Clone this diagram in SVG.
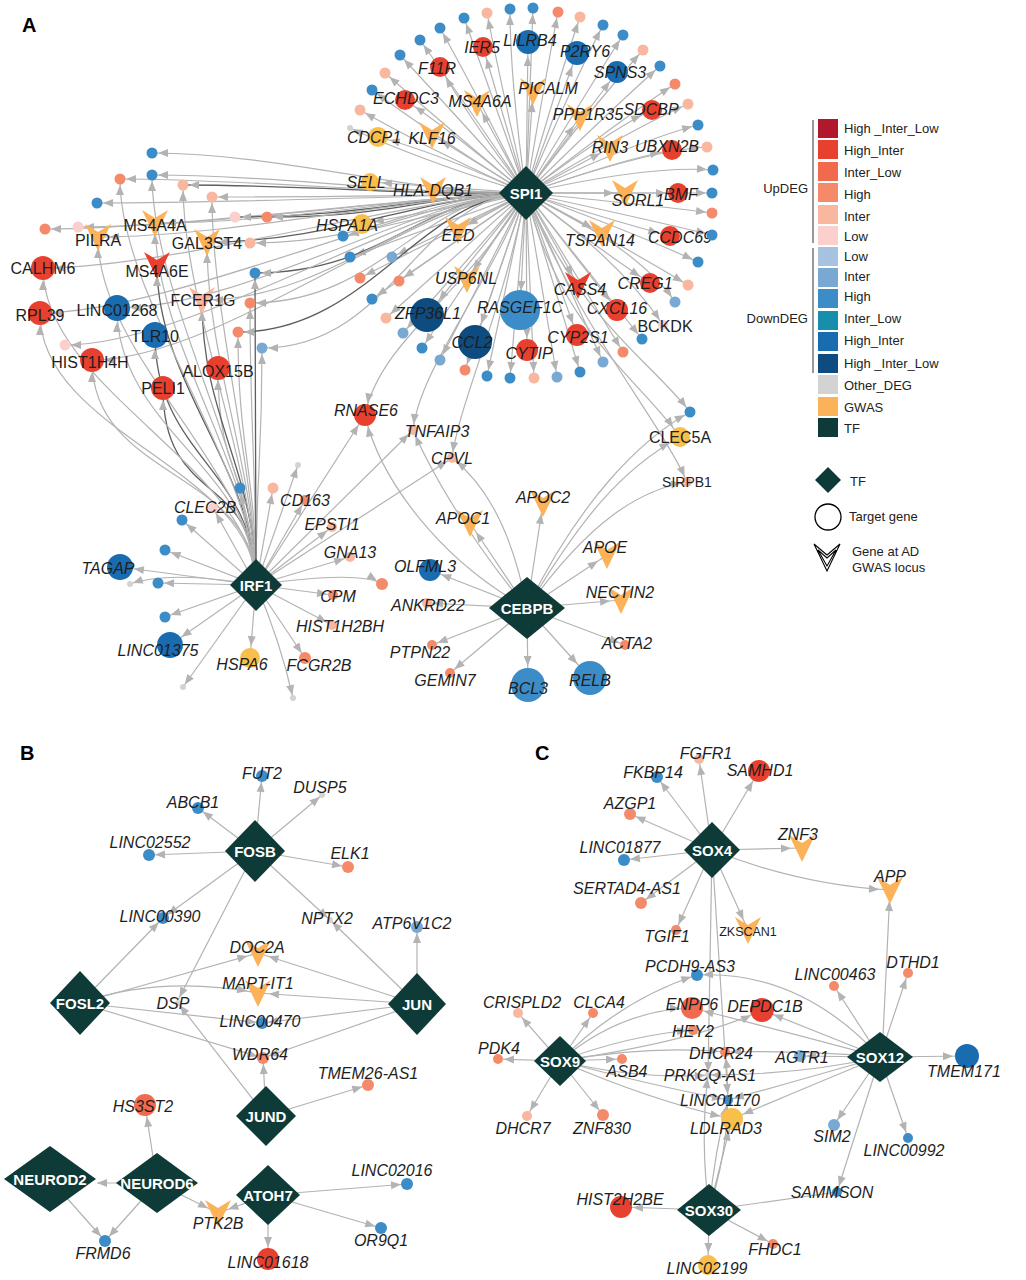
<svg xmlns="http://www.w3.org/2000/svg" xmlns:xlink="http://www.w3.org/1999/xlink" width="1026" height="1280" viewBox="0 0 1026 1280">
<style>
.e{fill:none;stroke:#b3b3b3;stroke-width:1.2}
.ed{fill:none;stroke:#5e5e5e;stroke-width:1.3}
.a0{marker-end:url(#m0)}.a3{marker-end:url(#m3)}.a5{marker-end:url(#m5)}.a10{marker-end:url(#m10)}.a13{marker-end:url(#m13)}.a17{marker-end:url(#m17)}.aV{marker-end:url(#mV)}
.t{font-family:"Liberation Sans",Arial,sans-serif;font-size:16px;font-style:italic;fill:#1e1e1e;text-anchor:middle}
.u{font-style:normal}
.tf{font-family:"Liberation Sans",Arial,sans-serif;font-size:15px;font-weight:bold;fill:#fff;text-anchor:middle}
.lg{font-family:"Liberation Sans",Arial,sans-serif;font-size:13px;fill:#222}
.pl{font-family:"Liberation Sans",Arial,sans-serif;font-size:20px;font-weight:bold;fill:#000}
.hilu{fill:#b2182b}.hiu{fill:#e8402f}.ilu{fill:#f26a4d}.hu{fill:#f58a6b}.iu{fill:#f9b79f}.lu{fill:#fbcfcb}
.ld{fill:#a7c2df}.id{fill:#79a9d3}.hd{fill:#3c8dc7}.ild{fill:#178fac}.hid{fill:#1a6cb0}.hild{fill:#0e4b7f}
.ot{fill:#d3d3d3}.gw{fill:#fbb258}.gd{fill:#f8c04a}.tfc{fill:#0e3b38}
</style>
<defs>
<marker id="m0" markerUnits="userSpaceOnUse" markerWidth="12" markerHeight="10" refX="10" refY="4" orient="auto" style="overflow:visible"><path d="M0,0L10,4L0,8z" fill="#b3b3b3"/></marker>
<marker id="m3" markerUnits="userSpaceOnUse" markerWidth="16" markerHeight="10" refX="13" refY="4" orient="auto" style="overflow:visible"><path d="M0,0L10,4L0,8z" fill="#b3b3b3"/></marker>
<marker id="m5" markerUnits="userSpaceOnUse" markerWidth="18" markerHeight="10" refX="16" refY="4" orient="auto" style="overflow:visible"><path d="M0,0L10,4L0,8z" fill="#b3b3b3"/></marker>
<marker id="m10" markerUnits="userSpaceOnUse" markerWidth="24" markerHeight="10" refX="22" refY="4" orient="auto" style="overflow:visible"><path d="M0,0L10,4L0,8z" fill="#b3b3b3"/></marker>
<marker id="m13" markerUnits="userSpaceOnUse" markerWidth="26" markerHeight="10" refX="24" refY="4" orient="auto" style="overflow:visible"><path d="M0,0L10,4L0,8z" fill="#b3b3b3"/></marker>
<marker id="m17" markerUnits="userSpaceOnUse" markerWidth="32" markerHeight="10" refX="29" refY="4" orient="auto" style="overflow:visible"><path d="M0,0L10,4L0,8z" fill="#b3b3b3"/></marker>
<marker id="mV" markerUnits="userSpaceOnUse" markerWidth="24" markerHeight="10" refX="21" refY="4" orient="auto" style="overflow:visible"><path d="M0,0L10,4L0,8z" fill="#b3b3b3"/></marker>
<path id="v" d="M-13,-13L0,-5L13,-13L0,14Z"/>
</defs>
<rect width="1026" height="1280" fill="#fff"/>
<text class="pl" x="22" y="32">A</text>
<text class="pl" x="20" y="760">B</text>
<text class="pl" x="535" y="760">C</text>

<g id="connectors">
<path class="e a10" d="M526,193L483,47"/><path class="e a13" d="M526,193L528,42"/><path class="e a13" d="M526,193L577,53"/><path class="e a10" d="M526,193L617,72"/>
<path class="e a10" d="M526,193Q470,120 440,67"/><path class="e a10" d="M526,193Q450,130 405,100"/><path class="e aV" d="M526,193L477,103"/><path class="e aV" d="M526,193L533,91"/>
<path class="e aV" d="M526,193L580,117"/><path class="e a10" d="M526,193Q610,130 652,110"/><path class="e a10" d="M526,193Q430,150 378,137"/><path class="e aV" d="M526,193L432,135"/>
<path class="e aV" d="M526,193L610,148"/><path class="e a10" d="M526,193Q620,160 672,150"/><path class="e a10" d="M526,193L370,182"/><path class="e aV" d="M526,193L433,190"/>
<path class="e a10" d="M526,193L362,224"/><path class="e aV" d="M526,193L458,230"/><path class="e aV" d="M526,193L625,193"/><path class="e a10" d="M526,193L678,193"/>
<path class="e aV" d="M526,193L602,233"/><path class="e a10" d="M526,193Q610,220 670,236"/><path class="e a10" d="M526,193Q600,250 650,283"/><path class="e aV" d="M526,193L467,279"/>
<path class="e aV" d="M526,193L578,285"/><path class="e a17" d="M526,193L520,310"/><path class="e a17" d="M526,193L427,315"/><path class="e a17" d="M526,193L475,342"/>
<path class="e a10" d="M526,193L617,310"/><path class="e a5" d="M526,193Q620,260 663,325"/><path class="e a10" d="M526,193L577,335"/><path class="e a10" d="M526,193L527,350"/>
<path class="e a5" d="M526,193Q500,80 487,13"/><path class="e a5" d="M526,193Q510,80 510,9"/><path class="e a5" d="M526,193Q530,80 533,8"/><path class="e a5" d="M526,193Q545,80 558,12"/>
<path class="e a5" d="M526,193Q555,90 580,17"/><path class="e a5" d="M526,193Q565,100 603,25"/><path class="e a5" d="M526,193Q575,110 623,35"/><path class="e a5" d="M526,193Q590,110 643,50"/>
<path class="e a5" d="M526,193Q600,120 660,66"/><path class="e a5" d="M526,193Q620,120 675,84"/><path class="e a5" d="M526,193Q630,130 688,104"/><path class="e a5" d="M526,193Q640,140 698,125"/>
<path class="e a5" d="M526,193Q650,150 707,147"/><path class="e a5" d="M526,193Q650,165 713,170"/><path class="e a5" d="M526,193L712,193"/><path class="e a5" d="M526,193Q650,205 712,213"/>
<path class="e a5" d="M526,193Q650,220 712,235"/><path class="e a5" d="M526,193Q640,235 698,262"/><path class="e a5" d="M526,193Q630,250 688,285"/>
<path class="e a5" d="M526,193Q490,90 464,18"/><path class="e a5" d="M526,193Q480,100 440,28"/><path class="e a5" d="M526,193Q470,110 420,40"/><path class="e a5" d="M526,193Q460,120 400,55"/>
<path class="e a5" d="M526,193Q450,130 385,73"/><path class="e a5" d="M526,193Q440,140 372,90"/><path class="e a5" d="M526,193Q430,150 360,110"/><path class="e a3" d="M526,193Q420,160 350,128"/>
<path class="e a5" d="M526,193L343,236"/><path class="e a5" d="M526,193L350,257"/><path class="e a5" d="M526,193L392,257"/><path class="e a5" d="M526,193L360,278"/>
<path class="e a5" d="M526,193L399,281"/><path class="e a5" d="M526,193L372,299"/><path class="e a5" d="M526,193L386,318"/><path class="e a5" d="M526,193L403,333"/>
<path class="e a5" d="M526,193L422,348"/><path class="e a5" d="M526,193L440,360"/><path class="e a5" d="M526,193L465,370"/><path class="e a5" d="M526,193L487,376"/>
<path class="e a5" d="M526,193L510,378"/><path class="e a5" d="M526,193L534,378"/><path class="e a5" d="M526,193L557,377"/><path class="e a5" d="M526,193L580,372"/>
<path class="e a5" d="M526,193L603,362"/><path class="e a5" d="M526,193L623,352"/><path class="e a5" d="M526,193L642,339"/><path class="e a5" d="M526,193Q640,250 675,302"/>
<path class="e a10" d="M526,193C560,330 640,380 680,437"/><path class="e a5" d="M526,193C580,330 660,420 687,482"/><path class="e a5" d="M526,193C580,320 650,360 690,412"/>
<path class="e a10" d="M526,193C470,290 380,340 365,415"/><path class="e a5" d="M526,193C480,300 420,370 413,430"/><path class="e a5" d="M526,193C500,320 460,400 452,458"/>
<path class="e a5" d="M526,193C420,196 282,153 152,153"/><path class="e a5" d="M526,193C420,196 282,175 152,175"/><path class="e a5" d="M526,193C420,196 250,179 120,179"/>
<path class="ed a5" d="M526,193C420,196 313,185 183,185"/><path class="e a5" d="M526,193C420,196 342,197 212,197"/><path class="e a5" d="M526,193C420,196 227,203 97,203"/>
<path class="e a5" d="M526,193C420,196 175,229 45,229"/><path class="e a5" d="M526,193C420,196 208,227 78,227"/><path class="ed a5" d="M526,193C420,196 365,217 235,217"/>
<path class="ed a5" d="M526,193C420,196 397,217 267,217"/><path class="e a5" d="M526,193C420,196 380,243 250,243"/><path class="ed a5" d="M526,193C420,196 385,273 255,273"/>
<path class="e a5" d="M526,193C420,196 380,303 250,303"/><path class="ed a5" d="M526,193C420,196 368,332 238,332"/><path class="e a5" d="M526,193C420,196 392,348 262,348"/>
<path class="e a5" d="M526,193C420,196 195,345 65,345"/><path class="e aV" d="M526,193C420,196 228,237 98,237"/><path class="e aV" d="M526,193C420,196 285,223 155,223"/>
<path class="ed aV" d="M526,193C420,196 337,242 207,242"/><path class="e a10" d="M526,193C420,196 173,268 43,268"/><path class="e a10" d="M526,193C420,196 170,313 40,313"/>
<path class="e aV" d="M526,193C420,196 332,300 202,300"/><path class="e a13" d="M526,193C420,196 247,308 117,308"/><path class="e a10" d="M526,193C420,196 222,360 92,360"/>
<path class="ed a10" d="M256,585C256,470 163,508 163,388"/><path class="e a10" d="M256,585C256,470 218,488 218,368"/><path class="ed a13" d="M256,585C256,470 155,455 155,335"/>
<path class="e a13" d="M256,585C256,470 117,428 117,308"/><path class="e a10" d="M256,585C256,470 92,480 92,360"/><path class="e a10" d="M256,585C256,470 40,433 40,313"/>
<path class="e a10" d="M256,585C256,470 43,388 43,268"/><path class="ed aV" d="M256,585C256,470 157,385 157,265"/><path class="e aV" d="M256,585C256,470 155,343 155,223"/>
<path class="e aV" d="M256,585C256,470 98,357 98,237"/><path class="e aV" d="M256,585C256,470 207,362 207,242"/><path class="ed aV" d="M256,585C256,470 202,420 202,300"/>
<path class="e a5" d="M256,585C256,470 238,452 238,332"/><path class="e a5" d="M256,585C256,470 262,468 262,348"/><path class="e a5" d="M256,585C256,470 250,423 250,303"/>
<path class="e a5" d="M256,585C256,470 120,299 120,179"/><path class="e a5" d="M256,585C256,470 183,305 183,185"/><path class="e a5" d="M256,585C256,470 212,317 212,197"/>
<path class="e a5" d="M256,585C256,470 152,295 152,175"/><path class="ed a5" d="M256,585C256,470 255,393 255,273"/>
<path class="e a13" d="M256,585L120,567"/><path class="e a13" d="M256,585L170,645"/><path class="e a10" d="M256,585L250,658"/><path class="e a5" d="M256,585L305,658"/>
<path class="e a5" d="M256,585L332,625"/><path class="e a5" d="M256,585L333,595"/><path class="e a5" d="M256,585Q360,570 382,584"/><path class="e a5" d="M256,585L350,557"/>
<path class="e a5" d="M256,585L332,527"/><path class="e a5" d="M256,585L305,500"/><path class="e a5" d="M256,585L213,508"/><path class="e a5" d="M256,585L240,488"/>
<path class="e a5" d="M256,585L273,488"/><path class="e a5" d="M256,585L182,520"/><path class="e a5" d="M256,585L165,550"/><path class="e a5" d="M256,585L158,583"/>
<path class="e a5" d="M256,585L165,617"/><path class="e a3" d="M256,585Q170,570 130,584"/><path class="e a3" d="M256,585L183,687"/><path class="e a3" d="M256,585Q280,640 293,698"/>
<path class="e a3" d="M256,585L298,465"/>
<path class="e a10" d="M256,585L365,415"/><path class="e a5" d="M256,585L413,430"/><path class="e a5" d="M256,585L452,458"/>
<path class="e aV" d="M527,608L543,503"/><path class="e aV" d="M527,608L470,523"/><path class="e aV" d="M527,608L607,555"/><path class="e aV" d="M527,608L621,600"/>
<path class="e a10" d="M527,608L430,570"/><path class="e a5" d="M527,608L427,603"/><path class="e a5" d="M527,608L432,645"/><path class="e a5" d="M527,608L450,673"/>
<path class="e a17" d="M527,608L528,685"/><path class="e a17" d="M527,608L590,678"/><path class="e a5" d="M527,608L625,645"/>
<path class="e a5" d="M527,608C510,520 480,480 452,458"/><path class="e a5" d="M527,608C470,540 430,470 413,430"/><path class="e a10" d="M527,608C440,560 380,480 365,415"/>
<path class="e a10" d="M527,608C580,520 620,470 680,437"/><path class="e a5" d="M527,608C590,520 640,490 687,482"/><path class="e a5" d="M527,608C580,500 640,440 690,412"/>
<path class="e a5" d="M255,851L262,776"/><path class="e a3" d="M255,851L322,795"/><path class="e a5" d="M255,851L198,808"/><path class="e a5" d="M255,851L149,855"/>
<path class="e a5" d="M255,851L348,867"/><path class="e a5" d="M255,851L163,918"/><path class="e a3" d="M255,851L330,920"/><path class="e a3" d="M255,851L178,1000"/>
<path class="e a5" d="M80,1003L163,918"/><path class="e aV" d="M80,1003L258,953"/><path class="e aV" d="M80,1003Q160,975 258,993"/><path class="e a5" d="M80,1003L262,1023"/><path class="e a5" d="M80,1003L263,1058"/>
<path class="e a5" d="M417,1004L417,927"/><path class="e a3" d="M417,1004L330,920"/><path class="e aV" d="M417,1004L258,953"/><path class="e aV" d="M417,1004L258,993"/>
<path class="e a5" d="M417,1004L262,1023"/><path class="e a5" d="M417,1004L263,1058"/>
<path class="e a3" d="M266,1116L178,1003"/><path class="e a5" d="M266,1116L263,1058"/><path class="e a5" d="M266,1116L368,1085"/>
<path class="e a10" d="M157,1183L145,1105"/><path class="e a0" d="M157,1183L97,1183"/><path class="e a5" d="M157,1183L105,1241"/><path class="e aV" d="M157,1183L218,1213"/>
<path class="e a5" d="M50,1179L105,1241"/>
<path class="e aV" d="M268,1195L218,1213"/><path class="e a10" d="M268,1195L268,1259"/><path class="e a5" d="M268,1195L407,1184"/><path class="e a5" d="M268,1195L381,1228"/>
<path class="e a5" d="M712,850L699,759"/><path class="e a5" d="M712,850L657,777"/><path class="e a10" d="M712,850L759,771"/><path class="e a5" d="M712,850L630,814"/>
<path class="e a5" d="M712,850L624,860"/><path class="e a5" d="M712,850L641,903"/><path class="e a5" d="M712,850L676,930"/><path class="e aV" d="M712,850L748,930"/>
<path class="e aV" d="M712,850L802,848"/><path class="e aV" d="M712,850Q800,885 890,890"/><path class="e a3" d="M712,850L708,1075"/><path class="e a5" d="M712,850L728,1100"/>
<path class="e a5" d="M560,1061L518,1013"/><path class="e a5" d="M560,1061L593,1013"/><path class="e a5" d="M560,1061L498,1059"/><path class="e a5" d="M560,1061L622,1059"/>
<path class="e a5" d="M560,1061L527,1116"/><path class="e a5" d="M560,1061L603,1115"/><path class="e a5" d="M560,1061Q620,1000 697,975"/><path class="e a10" d="M560,1061Q620,1010 692,1008"/>
<path class="e a10" d="M560,1061Q700,1040 762,1010"/><path class="e a5" d="M560,1061Q630,1035 693,1030"/><path class="e a5" d="M560,1061Q650,1045 725,1052"/><path class="e a10" d="M560,1061Q650,1100 732,1119"/>
<path class="e a5" d="M560,1061Q650,1085 728,1100"/><path class="e a3" d="M560,1061Q640,1080 708,1075"/>
<path class="e aV" d="M882,1057L890,890"/><path class="e a5" d="M880,1057L908,973"/><path class="e a5" d="M880,1057L834,986"/><path class="e a5" d="M880,1057Q800,970 697,975"/>
<path class="e a10" d="M880,1057L762,1010"/><path class="e a10" d="M880,1057Q780,1030 692,1008"/><path class="e a5" d="M880,1057L800,1056"/><path class="e a13" d="M880,1057L967,1056"/>
<path class="e a5" d="M880,1057L834,1125"/><path class="e a5" d="M880,1057L908,1138"/><path class="e a5" d="M880,1057L837,1192"/><path class="e a10" d="M880,1057Q800,1090 732,1119"/>
<path class="e a5" d="M880,1057Q800,1080 728,1100"/><path class="e a3" d="M880,1057Q800,1075 708,1075"/><path class="e a5" d="M880,1057Q800,1050 725,1052"/>
<path class="e a10" d="M709,1210L621,1207"/><path class="e a5" d="M709,1210L773,1244"/><path class="e a10" d="M709,1210L708,1265"/><path class="e a10" d="M709,1210L732,1119"/>
<path class="e a5" d="M709,1210Q715,1150 728,1100"/><path class="e a3" d="M709,1210Q700,1140 708,1075"/><path class="e a5" d="M709,1210Q735,1130 725,1052"/><path class="e" d="M709,1210L837,1192"/>
</g>

<g id="n-IER5"><circle class="hiu" cx="483" cy="47" r="10"/><text class="t" x="482" y="53">IER5</text></g>
<g id="n-LILRB4"><circle class="hid" cx="528" cy="42" r="12"/><text class="t" x="530" y="46">LILRB4</text></g>
<g id="n-P2RY6"><circle class="hid" cx="577" cy="53" r="12"/><text class="t" x="585" y="57">P2RY6</text></g>
<g id="n-SPNS3"><circle class="hid" cx="617" cy="72" r="11"/><text class="t" x="620" y="78">SPNS3</text></g>
<g id="n-F11R"><circle class="hiu" cx="440" cy="67" r="10"/><text class="t" x="437" y="74">F11R</text></g>
<g id="n-ECHDC3"><circle class="hiu" cx="405" cy="100" r="10"/><text class="t" x="406" y="104">ECHDC3</text></g>
<g id="n-MS4A6A"><use xlink:href="#v" x="477" y="103" class="gw"/><text class="t" x="480" y="107">MS4A6A</text></g>
<g id="n-PICALM"><use xlink:href="#v" x="533" y="91" class="gw"/><text class="t" x="548" y="94">PICALM</text></g>
<g id="n-PPP1R35"><use xlink:href="#v" x="580" y="117" class="gw"/><text class="t" x="588" y="120">PPP1R35</text></g>
<g id="n-SDCBP"><circle class="hiu" cx="652" cy="110" r="10"/><text class="t" x="651" y="115">SDCBP</text></g>
<g id="n-CDCP1"><circle class="gd" cx="378" cy="137" r="10"/><text class="t" x="374" y="143">CDCP1</text></g>
<g id="n-KLF16"><use xlink:href="#v" x="432" y="135" class="gw"/><text class="t" x="432" y="144">KLF16</text></g>
<g id="n-RIN3"><use xlink:href="#v" x="610" y="148" class="gw"/><text class="t" x="610" y="153">RIN3</text></g>
<g id="n-UBXN2B"><circle class="hiu" cx="672" cy="150" r="10"/><text class="t" x="667" y="152">UBXN2B</text></g>
<g id="n-SELL"><circle class="gd" cx="370" cy="182" r="9"/><text class="t" x="366" y="188">SELL</text></g>
<g id="n-HLA-DQB1"><use xlink:href="#v" x="433" y="190" class="gw"/><text class="t" x="433" y="196">HLA-DQB1</text></g>
<g id="n-HSPA1A"><circle class="gd" cx="362" cy="224" r="10"/><text class="t" x="347" y="231">HSPA1A</text></g>
<g id="n-EED"><use xlink:href="#v" x="458" y="230" class="gw"/><text class="t" x="458" y="241">EED</text></g>
<g id="n-SORL1"><use xlink:href="#v" x="625" y="193" class="gw"/><text class="t" x="638" y="206">SORL1</text></g>
<g id="n-BMF"><circle class="hiu" cx="678" cy="193" r="10"/><text class="t" x="681" y="200">BMF</text></g>
<g id="n-TSPAN14"><use xlink:href="#v" x="602" y="233" class="gw"/><text class="t" x="600" y="246">TSPAN14</text></g>
<g id="n-CCDC69"><circle class="hiu" cx="670" cy="236" r="10"/><text class="t" x="680" y="243">CCDC69</text></g>
<g id="n-CREG1"><circle class="hiu" cx="650" cy="283" r="10"/><text class="t" x="645" y="289">CREG1</text></g>
<g id="n-USP6NL"><use xlink:href="#v" x="467" y="279" class="gw"/><text class="t" x="466" y="284">USP6NL</text></g>
<g id="n-CASS4"><use xlink:href="#v" x="578" y="285" class="hiu"/><text class="t" x="580" y="295">CASS4</text></g>
<g id="n-RASGEF1C"><circle class="hd" cx="520" cy="310" r="20"/><text class="t" x="520" y="313">RASGEF1C</text></g>
<g id="n-ZFP36L1"><circle class="hild" cx="427" cy="315" r="17"/><text class="t" x="428" y="319">ZFP36L1</text></g>
<g id="n-CCL2"><circle class="hild" cx="475" cy="342" r="17"/><text class="t" x="472" y="348">CCL2</text></g>
<g id="n-CXCL16"><circle class="hiu" cx="617" cy="310" r="11"/><text class="t" x="617" y="314">CXCL16</text></g>
<g id="n-BCKDK"><circle class="lu" cx="663" cy="325" r="5"/><text class="t u" x="665" y="332">BCKDK</text></g>
<g id="n-CYP2S1"><circle class="hiu" cx="577" cy="335" r="11"/><text class="t" x="578" y="343">CYP2S1</text></g>
<g id="n-CYTIP"><circle class="hiu" cx="527" cy="350" r="11"/><text class="t" x="529" y="359">CYTIP</text></g>
<g id="n-RNASE6"><circle class="hiu" cx="365" cy="415" r="11"/><text class="t" x="366" y="416">RNASE6</text></g>
<g id="n-TNFAIP3"><circle class="iu" cx="413" cy="430" r="5"/><text class="t" x="437" y="437">TNFAIP3</text></g>
<g id="n-CPVL"><circle class="iu" cx="452" cy="458" r="5"/><text class="t" x="452" y="464">CPVL</text></g>
<g id="n-CLEC5A"><circle class="gd" cx="680" cy="437" r="10"/><text class="t u" x="680" y="443">CLEC5A</text></g>
<g id="n-SIRPB1"><circle class="iu" cx="687" cy="482" r="5"/><text class="t u" x="687" y="487" style="font-size:14px">SIRPB1</text></g>
<g id="n-APOC2"><use xlink:href="#v" x="543" y="503" class="gw"/><text class="t" x="543" y="503">APOC2</text></g>
<g id="n-APOC1"><use xlink:href="#v" x="470" y="523" class="gw"/><text class="t" x="463" y="524">APOC1</text></g>
<g id="n-APOE"><use xlink:href="#v" x="607" y="555" class="gw"/><text class="t" x="605" y="553">APOE</text></g>
<g id="n-NECTIN2"><use xlink:href="#v" x="621" y="600" class="gw"/><text class="t" x="620" y="598">NECTIN2</text></g>
<g id="n-OLFML3"><circle class="hid" cx="430" cy="570" r="11"/><text class="t" x="425" y="572">OLFML3</text></g>
<g id="n-ANKRD22"><circle class="iu" cx="427" cy="603" r="5"/><text class="t" x="428" y="611">ANKRD22</text></g>
<g id="n-PTPN22"><circle class="hu" cx="432" cy="645" r="5"/><text class="t" x="420" y="658">PTPN22</text></g>
<g id="n-GEMIN7"><circle class="hu" cx="450" cy="673" r="5"/><text class="t" x="445" y="686">GEMIN7</text></g>
<g id="n-BCL3"><circle class="hd" cx="528" cy="685" r="17"/><text class="t" x="528" y="694">BCL3</text></g>
<g id="n-RELB"><circle class="hd" cx="590" cy="678" r="17"/><text class="t" x="590" y="686">RELB</text></g>
<g id="n-ACTA2"><circle class="hu" cx="625" cy="645" r="5"/><text class="t" x="627" y="649">ACTA2</text></g>
<g id="n-CLEC2B"><circle class="lu" cx="213" cy="508" r="5"/><text class="t" x="205" y="513">CLEC2B</text></g>
<g id="n-CD163"><circle class="hu" cx="305" cy="500" r="5"/><text class="t" x="305" y="506">CD163</text></g>
<g id="n-EPSTI1"><circle class="iu" cx="332" cy="527" r="5"/><text class="t" x="332" y="530">EPSTI1</text></g>
<g id="n-GNA13"><circle class="iu" cx="350" cy="557" r="5"/><text class="t" x="350" y="558">GNA13</text></g>
<g id="n-CPM"><circle class="hu" cx="333" cy="595" r="5"/><text class="t" x="338" y="602">CPM</text></g>
<g id="n-HIST1H2BH"><circle class="iu" cx="332" cy="625" r="5"/><text class="t" x="340" y="632">HIST1H2BH</text></g>
<g id="n-FCGR2B"><circle class="hu" cx="305" cy="658" r="6"/><text class="t" x="319" y="671">FCGR2B</text></g>
<g id="n-HSPA6"><circle class="gd" cx="250" cy="658" r="10"/><text class="t" x="242" y="670">HSPA6</text></g>
<g id="n-LINC01375"><circle class="hid" cx="170" cy="645" r="13"/><text class="t" x="158" y="656">LINC01375</text></g>
<g id="n-TAGAP"><circle class="hid" cx="120" cy="567" r="13"/><text class="t" x="108" y="574">TAGAP</text></g>
<g id="n-PILRA"><use xlink:href="#v" x="98" y="237" class="gw"/><text class="t u" x="98" y="246">PILRA</text></g>
<g id="n-MS4A4A"><use xlink:href="#v" x="155" y="223" class="gw"/><text class="t u" x="155" y="231">MS4A4A</text></g>
<g id="n-GAL3ST4"><use xlink:href="#v" x="207" y="242" class="gw"/><text class="t u" x="207" y="249">GAL3ST4</text></g>
<g id="n-MS4A6E"><use xlink:href="#v" x="157" y="265" class="hiu"/><text class="t u" x="157" y="277">MS4A6E</text></g>
<g id="n-CALHM6"><circle class="hiu" cx="43" cy="268" r="12"/><text class="t u" x="43" y="274">CALHM6</text></g>
<g id="n-FCER1G"><use xlink:href="#v" x="202" y="300" class="iu"/><text class="t u" x="203" y="306">FCER1G</text></g>
<g id="n-LINC01268"><circle class="hid" cx="117" cy="308" r="13"/><text class="t u" x="117" y="316">LINC01268</text></g>
<g id="n-RPL39"><circle class="hiu" cx="40" cy="313" r="12"/><text class="t u" x="40" y="321">RPL39</text></g>
<g id="n-TLR10"><circle class="hid" cx="155" cy="335" r="13"/><text class="t u" x="155" y="342">TLR10</text></g>
<g id="n-HIST1H4H"><circle class="hiu" cx="92" cy="360" r="12"/><text class="t u" x="90" y="368">HIST1H4H</text></g>
<g id="n-ALOX15B"><circle class="hiu" cx="218" cy="368" r="12"/><text class="t u" x="218" y="377">ALOX15B</text></g>
<g id="n-PELI1"><circle class="hiu" cx="163" cy="388" r="12"/><text class="t u" x="163" y="394">PELI1</text></g>

<g id="n-unlabeled-A">
<circle id="d1" class="iu" cx="487" cy="13" r="5.5"/><circle id="d2" class="hd" cx="510" cy="9" r="5.5"/><circle id="d3" class="hd" cx="533" cy="8" r="5.5"/><circle id="d4" class="hu" cx="558" cy="12" r="5.5"/>
<circle id="d5" class="iu" cx="580" cy="17" r="5.5"/><circle id="d6" class="hd" cx="603" cy="25" r="5.5"/><circle id="d7" class="hd" cx="623" cy="35" r="5.5"/><circle id="d8" class="iu" cx="643" cy="50" r="5.5"/>
<circle id="d9" class="hd" cx="660" cy="66" r="5.5"/><circle id="d10" class="hu" cx="675" cy="84" r="5.5"/><circle id="d11" class="iu" cx="688" cy="104" r="5.5"/><circle id="d12" class="hd" cx="698" cy="125" r="5.5"/>
<circle id="d13" class="iu" cx="707" cy="147" r="5.5"/><circle id="d14" class="hd" cx="713" cy="170" r="5.5"/><circle id="d15" class="hd" cx="712" cy="193" r="5.5"/><circle id="d16" class="hu" cx="712" cy="213" r="5.5"/>
<circle id="d17" class="hd" cx="712" cy="235" r="5.5"/><circle id="d18" class="hd" cx="698" cy="262" r="5.5"/><circle id="d19" class="iu" cx="688" cy="285" r="5.5"/>
<circle id="d20" class="hd" cx="464" cy="18" r="5.5"/><circle id="d21" class="hd" cx="440" cy="28" r="5.5"/><circle id="d22" class="hd" cx="420" cy="40" r="5.5"/><circle id="d23" class="hd" cx="400" cy="55" r="5.5"/>
<circle id="d24" class="iu" cx="385" cy="73" r="5.5"/><circle id="d25" class="hd" cx="372" cy="90" r="5.5"/><circle id="d26" class="iu" cx="360" cy="110" r="5.5"/><circle id="d27" class="ot" cx="350" cy="128" r="3"/>
<circle id="d28" class="hd" cx="343" cy="236" r="5.5"/><circle id="d29" class="hd" cx="350" cy="257" r="5.5"/><circle id="d30" class="id" cx="392" cy="257" r="5.5"/><circle id="d31" class="hu" cx="360" cy="278" r="5.5"/>
<circle id="d32" class="hu" cx="399" cy="281" r="5.5"/><circle id="d33" class="hd" cx="372" cy="299" r="5.5"/><circle id="d34" class="iu" cx="386" cy="318" r="5.5"/><circle id="d35" class="id" cx="403" cy="333" r="5.5"/>
<circle id="d36" class="hd" cx="422" cy="348" r="5.5"/><circle id="d37" class="id" cx="440" cy="360" r="5.5"/><circle id="d38" class="hu" cx="465" cy="370" r="5.5"/><circle id="d39" class="hd" cx="487" cy="376" r="5.5"/>
<circle id="d40" class="hd" cx="510" cy="378" r="5.5"/><circle id="d41" class="iu" cx="534" cy="378" r="5.5"/><circle id="d42" class="id" cx="557" cy="377" r="5.5"/><circle id="d43" class="hd" cx="580" cy="372" r="5.5"/>
<circle id="d44" class="id" cx="603" cy="362" r="5.5"/><circle id="d45" class="hu" cx="623" cy="352" r="5.5"/><circle id="d46" class="hd" cx="642" cy="339" r="5.5"/><circle id="d47" class="id" cx="675" cy="302" r="5.5"/>
<circle id="d48" class="hd" cx="690" cy="412" r="5.5"/>
<circle id="d49" class="hd" cx="152" cy="153" r="5.5"/><circle id="d50" class="hd" cx="152" cy="175" r="5.5"/><circle id="d51" class="hu" cx="120" cy="179" r="5.5"/><circle id="d52" class="iu" cx="183" cy="185" r="5.5"/>
<circle id="d53" class="iu" cx="212" cy="197" r="5.5"/><circle id="d54" class="hd" cx="97" cy="203" r="5.5"/><circle id="d55" class="hu" cx="45" cy="229" r="5.5"/><circle id="d56" class="lu" cx="78" cy="227" r="5.5"/>
<circle id="d57" class="lu" cx="235" cy="217" r="5.5"/><circle id="d58" class="hu" cx="267" cy="217" r="5.5"/><circle id="d59" class="iu" cx="250" cy="243" r="5.5"/><circle id="d60" class="hd" cx="255" cy="273" r="5.5"/>
<circle id="d61" class="hu" cx="250" cy="303" r="5.5"/><circle id="d62" class="hu" cx="238" cy="332" r="5.5"/><circle id="d63" class="id" cx="262" cy="348" r="5.5"/><circle id="d64" class="lu" cx="65" cy="345" r="5.5"/>
<circle id="d65" class="hd" cx="240" cy="488" r="5.5"/><circle id="d66" class="iu" cx="273" cy="488" r="5.5"/><circle id="d67" class="hd" cx="182" cy="520" r="5.5"/><circle id="d68" class="hd" cx="165" cy="550" r="5.5"/>
<circle id="d69" class="hd" cx="158" cy="583" r="5.5"/><circle id="d70" class="hd" cx="165" cy="617" r="5.5"/><circle id="d71" class="hu" cx="382" cy="584" r="6"/>
<circle id="d72" class="ot" cx="130" cy="584" r="3"/><circle id="d73" class="ot" cx="183" cy="687" r="3"/><circle id="d74" class="ot" cx="293" cy="698" r="3"/><circle id="d75" class="ot" cx="298" cy="465" r="3"/>
</g>

<g id="n-SPI1"><polygon class="tfc" points="526,166 553,193 526,220 499,193"/><text class="tf" x="526" y="199">SPI1</text></g>
<g id="n-IRF1"><polygon class="tfc" points="256,559 282,585 256,611 230,585"/><text class="tf" x="256" y="591">IRF1</text></g>
<g id="n-CEBPB"><polygon class="tfc" points="527,577 565,608 527,639 489,608"/><text class="tf" x="527" y="614">CEBPB</text></g>

<g id="n-FUT2"><circle class="hd" cx="262" cy="776" r="6"/><text class="t" x="262" y="779">FUT2</text></g>
<g id="n-DUSP5"><circle class="ot" cx="322" cy="795" r="3"/><text class="t" x="320" y="793">DUSP5</text></g>
<g id="n-ABCB1"><circle class="hd" cx="198" cy="808" r="6"/><text class="t" x="193" y="808">ABCB1</text></g>
<g id="n-LINC02552"><circle class="hd" cx="149" cy="855" r="6"/><text class="t" x="150" y="848">LINC02552</text></g>
<g id="n-ELK1"><circle class="hu" cx="348" cy="867" r="6"/><text class="t" x="350" y="859">ELK1</text></g>
<g id="n-LINC00390"><circle class="hd" cx="163" cy="918" r="6"/><text class="t" x="160" y="922">LINC00390</text></g>
<g id="n-NPTX2"><circle class="ot" cx="330" cy="920" r="3"/><text class="t" x="327" y="924">NPTX2</text></g>
<g id="n-ATP6V1C2"><circle class="id" cx="417" cy="927" r="6"/><text class="t" x="412" y="929">ATP6V1C2</text></g>
<g id="n-DOC2A"><use xlink:href="#v" x="258" y="953" class="gw"/><text class="t" x="257" y="953">DOC2A</text></g>
<g id="n-MAPT-IT1"><use xlink:href="#v" x="258" y="993" class="gw"/><text class="t" x="258" y="989">MAPT-IT1</text></g>
<g id="n-DSP"><circle class="ot" cx="178" cy="1003" r="3"/><text class="t" x="173" y="1009">DSP</text></g>
<g id="n-LINC00470"><circle class="hd" cx="262" cy="1023" r="6"/><text class="t" x="260" y="1027">LINC00470</text></g>
<g id="n-WDR64"><circle class="hu" cx="263" cy="1058" r="6"/><text class="t" x="260" y="1060">WDR64</text></g>
<g id="n-TMEM26-AS1"><circle class="hu" cx="368" cy="1085" r="6"/><text class="t" x="368" y="1079">TMEM26-AS1</text></g>
<g id="n-HS3ST2"><circle class="ilu" cx="145" cy="1105" r="11"/><text class="t" x="143" y="1112">HS3ST2</text></g>
<g id="n-PTK2B"><use xlink:href="#v" x="218" y="1213" class="gw"/><text class="t" x="218" y="1229">PTK2B</text></g>
<g id="n-FRMD6"><circle class="hd" cx="105" cy="1241" r="6"/><text class="t" x="103" y="1259">FRMD6</text></g>
<g id="n-LINC01618"><circle class="hiu" cx="268" cy="1259" r="11"/><text class="t" x="268" y="1268">LINC01618</text></g>
<g id="n-LINC02016"><circle class="hd" cx="407" cy="1184" r="6"/><text class="t" x="392" y="1176">LINC02016</text></g>
<g id="n-OR9Q1"><circle class="hd" cx="381" cy="1228" r="6"/><text class="t" x="381" y="1246">OR9Q1</text></g>
<g id="n-FOSB"><polygon class="tfc" points="255,820 285,851 255,882 225,851"/><text class="tf" x="255" y="857">FOSB</text></g>
<g id="n-FOSL2"><polygon class="tfc" points="80,971 110,1003 80,1035 50,1003"/><text class="tf" x="80" y="1009">FOSL2</text></g>
<g id="n-JUN"><polygon class="tfc" points="417,973 446,1004 417,1035 388,1004"/><text class="tf" x="417" y="1010">JUN</text></g>
<g id="n-JUND"><polygon class="tfc" points="266,1086 296,1116 266,1146 236,1116"/><text class="tf" x="266" y="1122">JUND</text></g>
<g id="n-NEUROD2"><polygon class="tfc" points="50,1146 96,1179 50,1212 4,1179"/><text class="tf" x="50" y="1185">NEUROD2</text></g>
<g id="n-NEUROD6"><polygon class="tfc" points="157,1153 198,1183 157,1213 116,1183"/><text class="tf" x="157" y="1189">NEUROD6</text></g>
<g id="n-ATOH7"><polygon class="tfc" points="268,1165 300,1195 268,1225 236,1195"/><text class="tf" x="268" y="1201">ATOH7</text></g>

<g id="n-FGFR1"><circle class="iu" cx="699" cy="759" r="5"/><text class="t" x="706" y="759">FGFR1</text></g>
<g id="n-FKBP14"><circle class="hd" cx="657" cy="777" r="6"/><text class="t" x="653" y="778">FKBP14</text></g>
<g id="n-SAMHD1"><circle class="hiu" cx="759" cy="771" r="11"/><text class="t" x="760" y="776">SAMHD1</text></g>
<g id="n-AZGP1"><circle class="hu" cx="630" cy="814" r="6"/><text class="t" x="630" y="809">AZGP1</text></g>
<g id="n-LINC01877"><circle class="hd" cx="624" cy="860" r="6"/><text class="t" x="620" y="853">LINC01877</text></g>
<g id="n-SERTAD4-AS1"><circle class="hu" cx="641" cy="903" r="6"/><text class="t" x="627" y="894">SERTAD4-AS1</text></g>
<g id="n-TGIF1"><circle class="hu" cx="676" cy="930" r="5"/><text class="t" x="667" y="942">TGIF1</text></g>
<g id="n-ZKSCAN1"><use xlink:href="#v" x="748" y="930" class="gw"/><text class="t u" x="748" y="936" style="font-size:12.5px">ZKSCAN1</text></g>
<g id="n-ZNF3"><use xlink:href="#v" x="802" y="848" class="gw"/><text class="t" x="798" y="840">ZNF3</text></g>
<g id="n-APP"><use xlink:href="#v" x="890" y="890" class="gw"/><text class="t" x="890" y="882">APP</text></g>
<g id="n-PCDH9-AS3"><circle class="hd" cx="697" cy="975" r="6"/><text class="t" x="690" y="972">PCDH9-AS3</text></g>
<g id="n-DTHD1"><circle class="hu" cx="908" cy="973" r="5"/><text class="t" x="913" y="968">DTHD1</text></g>
<g id="n-LINC00463"><circle class="hu" cx="834" cy="986" r="5"/><text class="t" x="835" y="980">LINC00463</text></g>
<g id="n-CRISPLD2"><circle class="iu" cx="518" cy="1013" r="5"/><text class="t" x="522" y="1008">CRISPLD2</text></g>
<g id="n-CLCA4"><circle class="hu" cx="593" cy="1013" r="5"/><text class="t" x="599" y="1008">CLCA4</text></g>
<g id="n-ENPP6"><circle class="ilu" cx="692" cy="1008" r="11"/><text class="t" x="692" y="1010">ENPP6</text></g>
<g id="n-DEPDC1B"><circle class="hiu" cx="762" cy="1010" r="12"/><text class="t" x="765" y="1012">DEPDC1B</text></g>
<g id="n-HEY2"><circle class="hu" cx="693" cy="1030" r="5"/><text class="t" x="693" y="1037">HEY2</text></g>
<g id="n-PDK4"><circle class="hu" cx="498" cy="1059" r="5"/><text class="t" x="499" y="1054">PDK4</text></g>
<g id="n-ASB4"><circle class="hu" cx="622" cy="1059" r="5"/><text class="t" x="627" y="1077">ASB4</text></g>
<g id="n-DHCR24"><circle class="hu" cx="725" cy="1052" r="5"/><text class="t" x="721" y="1059">DHCR24</text></g>
<g id="n-AGTR1"><circle class="id" cx="800" cy="1056" r="6"/><text class="t" x="802" y="1063">AGTR1</text></g>
<g id="n-TMEM171"><circle class="hid" cx="967" cy="1056" r="12"/><text class="t" x="964" y="1077">TMEM171</text></g>
<g id="n-PRKCQ-AS1"><circle class="ot" cx="708" cy="1075" r="3"/><text class="t" x="710" y="1081">PRKCQ-AS1</text></g>
<g id="n-LINC01170"><circle class="hd" cx="728" cy="1100" r="5"/><text class="t" x="720" y="1106">LINC01170</text></g>
<g id="n-LDLRAD3"><circle class="gd" cx="732" cy="1119" r="11"/><text class="t" x="726" y="1134">LDLRAD3</text></g>
<g id="n-DHCR7"><circle class="iu" cx="527" cy="1116" r="5"/><text class="t" x="523" y="1134">DHCR7</text></g>
<g id="n-ZNF830"><circle class="hu" cx="603" cy="1115" r="6"/><text class="t" x="602" y="1134">ZNF830</text></g>
<g id="n-SIM2"><circle class="id" cx="834" cy="1125" r="6"/><text class="t" x="832" y="1142">SIM2</text></g>
<g id="n-LINC00992"><circle class="hd" cx="908" cy="1138" r="5"/><text class="t" x="904" y="1156">LINC00992</text></g>
<g id="n-SAMMSON"><circle class="hd" cx="837" cy="1192" r="5"/><text class="t" x="832" y="1198">SAMMSON</text></g>
<g id="n-HIST2H2BE"><circle class="hiu" cx="621" cy="1207" r="11"/><text class="t" x="620" y="1205">HIST2H2BE</text></g>
<g id="n-FHDC1"><circle class="hu" cx="773" cy="1244" r="5"/><text class="t" x="775" y="1255">FHDC1</text></g>
<g id="n-LINC02199"><circle class="gd" cx="708" cy="1265" r="10"/><text class="t" x="707" y="1274">LINC02199</text></g>
<g id="n-SOX4"><polygon class="tfc" points="712,822 740,850 712,878 684,850"/><text class="tf" x="712" y="856">SOX4</text></g>
<g id="n-SOX9"><polygon class="tfc" points="560,1036 586,1061 560,1086 534,1061"/><text class="tf" x="560" y="1067">SOX9</text></g>
<g id="n-SOX12"><polygon class="tfc" points="880,1032 913,1057 880,1082 847,1057"/><text class="tf" x="880" y="1063">SOX12</text></g>
<g id="n-SOX30"><polygon class="tfc" points="709,1184 741,1210 709,1236 677,1210"/><text class="tf" x="709" y="1216">SOX30</text></g>

<g id="legend">
<rect x="818" y="119" width="20" height="19" fill="#b2182b"/><text class="lg" x="844" y="133">High _Inter_Low</text>
<rect x="818" y="140" width="20" height="19" fill="#e8402f"/><text class="lg" x="844" y="155">High_Inter</text>
<rect x="818" y="162" width="20" height="19" fill="#f26a4d"/><text class="lg" x="844" y="177">Inter_Low</text>
<rect x="818" y="183" width="20" height="19" fill="#f58a6b"/><text class="lg" x="844" y="199">High</text>
<rect x="818" y="205" width="20" height="19" fill="#f9b79f"/><text class="lg" x="844" y="221">Inter</text>
<rect x="818" y="226" width="20" height="19" fill="#fbcfcb"/><text class="lg" x="844" y="241">Low</text>
<rect x="818" y="247" width="20" height="19" fill="#a7c2df"/><text class="lg" x="844" y="261">Low</text>
<rect x="818" y="268" width="20" height="19" fill="#79a9d3"/><text class="lg" x="844" y="281">Inter</text>
<rect x="818" y="289" width="20" height="19" fill="#3c8dc7"/><text class="lg" x="844" y="301">High</text>
<rect x="818" y="311" width="20" height="19" fill="#178fac"/><text class="lg" x="844" y="323">Inter_Low</text>
<rect x="818" y="332" width="20" height="19" fill="#1a6cb0"/><text class="lg" x="844" y="345">High_Inter</text>
<rect x="818" y="354" width="20" height="19" fill="#0e4b7f"/><text class="lg" x="844" y="368">High _Inter_Low</text>
<rect x="818" y="375" width="20" height="19" fill="#d3d3d3"/><text class="lg" x="844" y="390">Other_DEG</text>
<rect x="818" y="397" width="20" height="19" fill="#fbb258"/><text class="lg" x="844" y="412">GWAS</text>
<rect x="818" y="418" width="20" height="19" fill="#0e3b38"/><text class="lg" x="844" y="433">TF</text>
<line x1="813" y1="120" x2="813" y2="243" stroke="#333" stroke-width="1"/>
<line x1="813" y1="248" x2="813" y2="373" stroke="#333" stroke-width="1"/>
<text class="lg" x="808" y="193" text-anchor="end">UpDEG</text>
<text class="lg" x="808" y="323" text-anchor="end">DownDEG</text>
<polygon points="828,467 841,480 828,493 815,480" fill="#0e3b38"/><text class="lg" x="850" y="486">TF</text>
<circle cx="828" cy="517" r="13" fill="none" stroke="#000" stroke-width="1.3"/><text class="lg" x="849" y="521">Target gene</text>
<path d="M814,544L827,555L840,544L827,571Z M818,550L827,566L836,550L827,558Z" fill="none" stroke="#000" stroke-width="1.1"/>
<text class="lg" x="852" y="556">Gene at AD</text><text class="lg" x="852" y="572">GWAS locus</text>
</g>
</svg>
